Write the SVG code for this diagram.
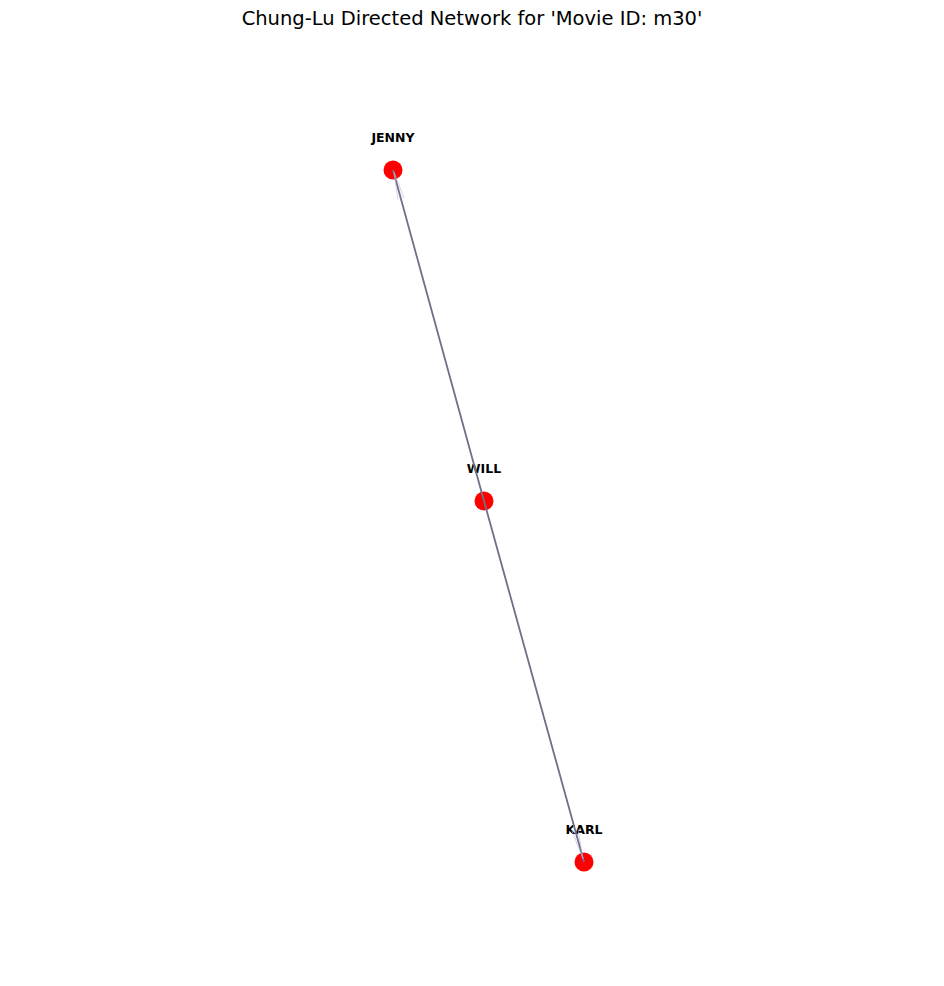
<svg xmlns="http://www.w3.org/2000/svg" width="944" height="986" viewBox="0 0 944 986">
<style>
.node{fill:#ff0000}
.lbl{font-family:"DejaVu Sans",sans-serif;font-size:12.5px;font-weight:bold;fill:#000;text-anchor:middle}
.edge{stroke:#6f6f86;stroke-width:1.8;fill:none}
.head{stroke:#b8b8e6;stroke-width:0.8;fill:none;opacity:0.8}
</style>
<rect width="944" height="986" fill="#ffffff"/>
<text x="472" y="25" font-family="DejaVu Sans, sans-serif" font-size="19.5" text-anchor="middle" fill="#000">Chung-Lu Directed Network for 'Movie ID: m30'</text>
<g id="n-JENNY"><circle class="node" cx="393" cy="170" r="9.5"/><text class="lbl" x="393" y="142">JENNY</text></g>
<g id="n-WILL"><circle class="node" cx="484" cy="501" r="9.5"/><text class="lbl" x="484" y="473">WILL</text></g>
<g id="n-KARL"><circle class="node" cx="584" cy="862" r="9.5"/><text class="lbl" x="584" y="834">KARL</text></g>
<g id="connectors">
<line class="edge" x1="393" y1="170" x2="484" y2="501"/>
<line class="edge" x1="484" y1="501" x2="584" y2="862"/>
<polyline class="head" points="404,198 394,172 398,200"/>
<polyline class="head" points="572,831 583,859 578,829"/>
</g>
</svg>
